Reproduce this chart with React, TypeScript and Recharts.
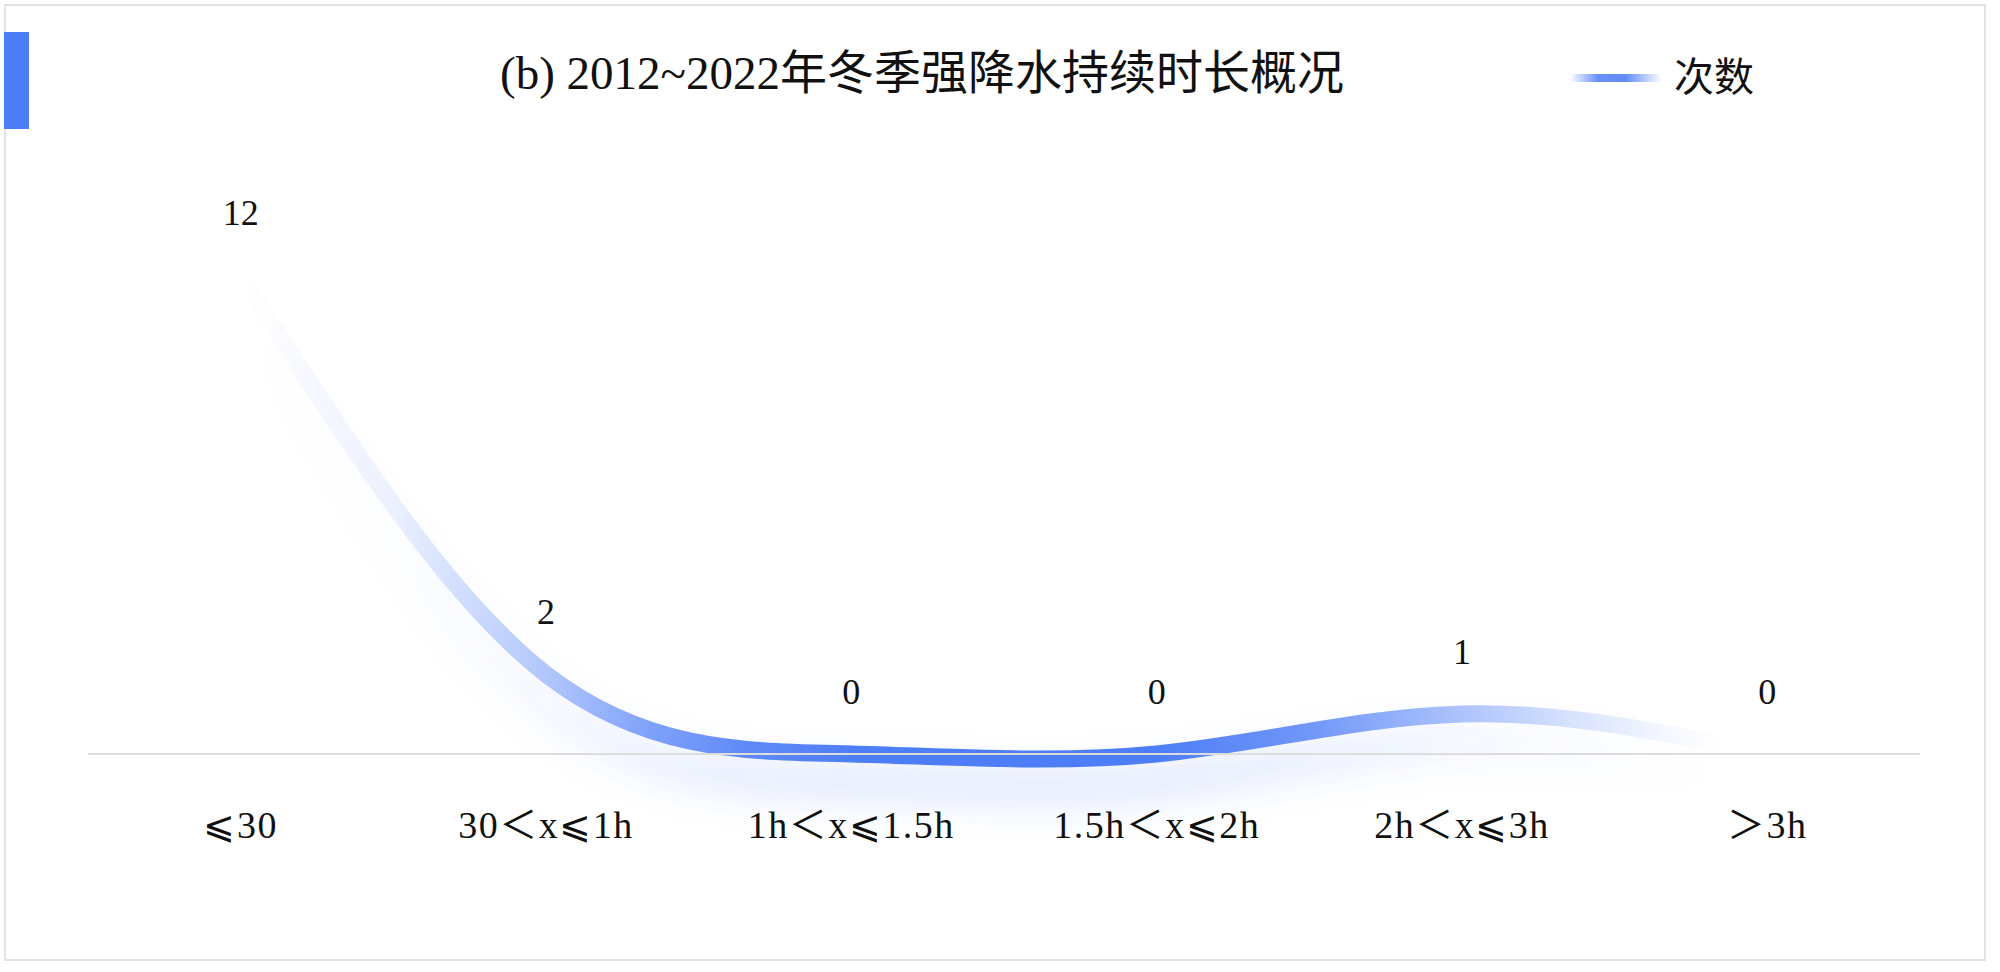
import React from 'react';
import { LineChart, Line, XAxis, YAxis, LabelList, Legend } from 'recharts';

// duration buckets and how many winter heavy-rain events fell in each
const CATEGORIES = ['⩽30', '30＜x⩽1h', '1h＜x⩽1.5h', '1.5h＜x⩽2h', '2h＜x⩽3h', '＞3h'];
const COUNTS = [12, 2, 0, 0, 1, 0];
const SERIES_NAME = '次数';
const TITLE = '(b) 2012~2022年冬季强降水持续时长概况';

const data = CATEGORIES.map((name, i) => ({ name, count: COUNTS[i] }));

const BLUE = '#4e7ef7';
const FONT = '"Liberation Serif", "Noto Sans CJK SC", "DejaVu Serif", serif';
const TEXT = '#111';

// line fades in from the left and out again at the right end
const LINE_STOPS = [
  [0, 0],
  [0.1, 0.1],
  [0.2, 0.42],
  [0.27, 0.72],
  [0.33, 0.9],
  [0.4, 1],
  [0.6, 1],
  [0.7, 0.8],
  [0.8, 0.45],
  [0.87, 0.22],
  [0.93, 0.06],
  [0.97, 0],
  [1, 0],
];

function LegendItem() {
  return (
    <div style={{ display: 'flex', alignItems: 'center', fontFamily: FONT, fontSize: 40, color: TEXT }}>
      <svg width={92} height={12} style={{ display: 'block' }}>
        <defs>
          <linearGradient id="legendGrad" x1="0" y1="0" x2="1" y2="0">
            <stop offset="0%" stopColor={BLUE} stopOpacity={0} />
            <stop offset="30%" stopColor={BLUE} stopOpacity={0.85} />
            <stop offset="60%" stopColor={BLUE} stopOpacity={0.9} />
            <stop offset="100%" stopColor={BLUE} stopOpacity={0} />
          </linearGradient>
        </defs>
        <rect x={0} y={2} width={92} height={8} fill="url(#legendGrad)" />
      </svg>
      <span style={{ marginLeft: 12, lineHeight: '44px' }}>{SERIES_NAME}</span>
    </div>
  );
}

export default function App() {
  return (
    <div style={{ position: 'absolute', left: 0, top: 0, width: 2000, height: 972, background: '#fff', overflow: 'hidden' }}>
      <div
        style={{
          position: 'absolute',
          left: 4,
          top: 4,
          width: 1978,
          height: 953,
          border: '2px solid #e3e3e3',
        }}
      />
      <div style={{ position: 'absolute', left: 4, top: 32, width: 25, height: 97, background: BLUE }} />
      <div
        style={{
          position: 'absolute',
          left: 422,
          top: 45,
          width: 1000,
          textAlign: 'center',
          fontFamily: FONT,
          fontSize: 47,
          lineHeight: '56px',
          color: TEXT,
          whiteSpace: 'nowrap',
        }}
      >
        {TITLE}
      </div>

      <div style={{ position: 'absolute', left: 0, top: 0 }}>
        <LineChart width={2000} height={972} data={data} margin={{ top: 275, right: 80, bottom: 188, left: 88 }}>
          <defs>
            <linearGradient id="lineGrad" x1="0" y1="0" x2="1" y2="0">
              {LINE_STOPS.map(([o, a]) => (
                <stop key={o} offset={`${o * 100}%`} stopColor={BLUE} stopOpacity={a} />
              ))}
            </linearGradient>
            <filter id="lineGlow" filterUnits="userSpaceOnUse" x="0" y="0" width="2000" height="972">
              <feGaussianBlur in="SourceAlpha" stdDeviation="20" result="blur" />
              <feOffset in="blur" dy="28" result="off" />
              <feFlood floodColor={BLUE} floodOpacity="0.36" />
              <feComposite in2="off" operator="in" result="shadow" />
              <feMerge>
                <feMergeNode in="shadow" />
                <feMergeNode in="SourceGraphic" />
              </feMerge>
            </filter>
          </defs>
          <XAxis
            dataKey="name"
            interval={0}
            padding={{ left: 152.67, right: 152.67 }}
            axisLine={{ stroke: '#dcdcdc', strokeWidth: 2 }}
            tickLine={false}
            tickSize={0}
            tickMargin={57}
            tick={{ fill: TEXT, fontSize: 38, fontFamily: FONT, letterSpacing: 1.5 }}
          />
          <YAxis hide domain={[0, 12]} />
          <Legend
            layout="horizontal"
            verticalAlign="middle"
            align="center"
            wrapperStyle={{ left: 1570, top: 56, width: 260, height: 44 }}
            content={() => <LegendItem />}
          />
          <Line
            type="natural"
            dataKey="count"
            name={SERIES_NAME}
            stroke="url(#lineGrad)"
            strokeWidth={17}
            strokeLinecap="round"
            filter="url(#lineGlow)"
            dot={false}
            activeDot={false}
            isAnimationActive={false}
          >
            <LabelList dataKey="count" position="top" offset={50} fill={TEXT} fontSize={36} fontFamily={FONT} />
          </Line>
        </LineChart>
      </div>
    </div>
  );
}
